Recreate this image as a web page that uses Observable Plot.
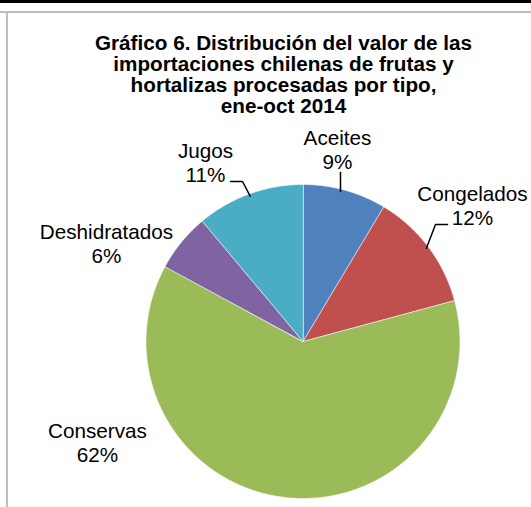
<!DOCTYPE html>
<html><head><meta charset="utf-8">
<script src="https://cdn.jsdelivr.net/npm/d3@7"></script>
<script src="https://cdn.jsdelivr.net/npm/@observablehq/plot@0.6"></script>
<style>
body{margin:0;background:#fff;}
#wrap{position:relative;width:531px;height:507px;overflow:hidden;background:#fff;}
#topbar{position:absolute;left:0;top:0;width:531px;height:3px;background:#000;}
#hline{position:absolute;left:0;top:11px;width:531px;height:2px;background:#bdbdbd;}
#vline{position:absolute;left:6px;top:11px;width:2px;height:496px;background:#bdbdbd;}
#chart{position:absolute;left:0;top:0;}
</style></head>
<body><div id="wrap"><div id="chart"></div><div id="topbar"></div><div id="hline"></div><div id="vline"></div></div>
<script>
// ---- data ----
const categories = ["Aceites", "Congelados", "Conservas", "Deshidratados", "Jugos"];
const shares = [8.6, 12.2, 62.1, 6.0, 11.1];
const percentLabels = ["9%", "12%", "62%", "6%", "11%"];
const colors = ["#4F81BD", "#C0504D", "#9BBB59", "#8064A2", "#4BACC6"];
const titleLines = [
  "Gráfico 6. Distribución del valor de las",
  "importaciones chilenas de frutas y",
  "hortalizas procesadas por tipo,",
  "ene-oct 2014"
];

// ---- layout ----
const W = 531, H = 507, cx = 302.5, cy = 341, R = 157;
const fontFamily = "'Liberation Sans', Arial, sans-serif";
const labelFont = 20.7, labelLine = 24;
const titleFont = 20.7, titleX = 283, titleBaselines = [49, 70, 91, 112];
const labelLayout = {
  Aceites:       {x: 337, y: 144, elbow: [[340, 172]], vertical: true},
  Congelados:    {x: 472, y: 200, elbow: [[447, 224], [435, 224]]},
  Conservas:     {x: 97,  y: 437, elbow: null},
  Deshidratados: {x: 106, y: 238, elbow: null},
  Jugos:         {x: 205, y: 157, elbow: [[230, 181], [242, 181]]}
};

const rows = categories.map((c, i) => ({cat: c, share: shares[i], pct: percentLabels[i]}));
const arcs = d3.pie().sort(null).value(d => d.share).startAngle(0).endAngle(2 * Math.PI)(rows);

const slicePts = arcs.flatMap(a => {
  const pts = [{cat: a.data.cat, x: cx, y: cy}];
  const n = Math.max(2, Math.ceil((a.endAngle - a.startAngle) / 0.004));
  for (let i = 0; i <= n; i++) {
    const t = a.startAngle + (a.endAngle - a.startAngle) * i / n;
    pts.push({cat: a.data.cat, x: cx + R * Math.sin(t), y: cy - R * Math.cos(t)});
  }
  return pts;
});

const leaderPts = arcs.flatMap(a => {
  const L = labelLayout[a.data.cat];
  if (!L.elbow) return [];
  const r = R * 0.985;
  let end;
  if (L.vertical) {
    const lx = L.elbow[L.elbow.length - 1][0];
    end = {cat: a.data.cat, x: lx, y: cy - Math.sqrt(r * r - (lx - cx) ** 2)};
  } else {
    const mid = (a.startAngle + a.endAngle) / 2;
    end = {cat: a.data.cat, x: cx + r * Math.sin(mid), y: cy - r * Math.cos(mid)};
  }
  return [...L.elbow.map(([x, y]) => ({cat: a.data.cat, x, y})), end];
});

const labelRows = rows.flatMap(r => {
  const L = labelLayout[r.cat];
  return [
    {text: r.cat, x: L.x, y: L.y},
    {text: r.pct, x: L.x, y: L.y + labelLine}
  ];
});
const titleRows = titleLines.map((t, i) => ({text: t, x: titleX, y: titleBaselines[i]}));

const chart = Plot.plot({
  width: W, height: H,
  margin: 0,
  x: {domain: [0, W], range: [0, W], axis: null},
  y: {domain: [0, H], range: [0, H], axis: null},
  color: {domain: categories, range: colors},
  style: {background: "transparent", fontFamily},
  marks: [
    Plot.line(slicePts, {x: "x", y: "y", z: "cat", fill: "cat", stroke: "white", strokeWidth: 0.6, curve: "linear-closed"}),
    Plot.line(leaderPts, {x: "x", y: "y", z: "cat", stroke: "black", strokeWidth: 1.5}),
    Plot.text(labelRows, {x: "x", y: "y", text: "text", fontSize: labelFont, fill: "black", lineAnchor: "bottom", textAnchor: "middle"}),
    Plot.text(titleRows, {x: "x", y: "y", text: "text", fontSize: titleFont, fontWeight: "bold", fill: "black", lineAnchor: "bottom", textAnchor: "middle"})
  ]
});
document.getElementById("chart").appendChild(chart);
</script>
</body></html>
